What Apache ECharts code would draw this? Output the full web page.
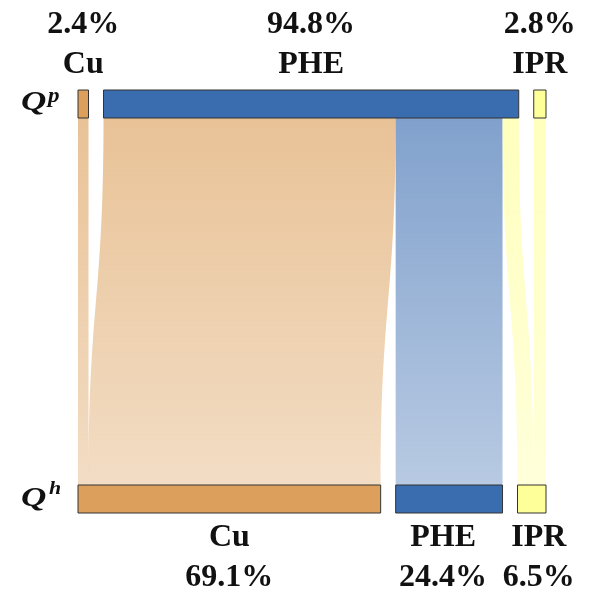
<!DOCTYPE html>
<html><head><meta charset="utf-8">
<script src="https://cdn.jsdelivr.net/npm/echarts@6/dist/echarts.min.js"></script>
<style>html,body{margin:0;padding:0;background:#fff}#c{width:600px;height:601px}</style>
</head><body><div id="c"></div>
<script>
// Categories and shares
const topNames = ['Cu', 'PHE', 'IPR'];          // Q^p
const topShares = ['2.4%', '94.8%', '2.8%'];
const bottomNames = ['Cu', 'PHE', 'IPR'];       // Q^h
const bottomShares = ['69.1%', '24.4%', '6.5%'];
// Flows (percent)
const flowSource = ['Cu', 'PHE', 'PHE', 'PHE', 'IPR'];
const flowTarget = ['Cu', 'Cu', 'PHE', 'IPR', 'IPR'];
const flowValue = [2.4, 66.7, 24.4, 3.7, 2.8];

const nodeColor = { Cu: [220, 160, 92], PHE: [58, 108, 176], IPR: [255, 255, 153] };
const bottomLabelShift = { Cu: 0, PHE: -6, IPR: 7 };
const rgb = c => 'rgb(' + c.join(',') + ')';
const rgba = (c, a) => 'rgba(' + c.join(',') + ',' + a + ')';
const FONT = 'Liberation Serif';

const nodes = [];
topNames.forEach((n, i) => nodes.push({
  name: 'p_' + n,
  itemStyle: { color: rgb(nodeColor[n]) },
  label: { position: 'top', distance: 5, formatter: '{v|' + topShares[i] + '}\n{n|' + n + '}' }
}));
bottomNames.forEach((n, i) => nodes.push({
  name: 'h_' + n,
  itemStyle: { color: rgb(nodeColor[n]) },
  label: { position: 'bottom', distance: 4, offset: [bottomLabelShift[n], 0],
           formatter: '{n|' + n + '}\n{v|' + bottomShares[i] + '}' }
}));

const links = flowSource.map((s, i) => ({
  source: 'p_' + s,
  target: 'h_' + flowTarget[i],
  value: flowValue[i],
  lineStyle: {
    color: {
      type: 'linear', x: 0, y: 0, x2: 0, y2: 1,
      colorStops: [
        { offset: 0, color: rgba(nodeColor[flowTarget[i]], 0.64) },
        { offset: 1, color: rgba(nodeColor[flowTarget[i]], 0.36) }
      ]
    }
  }
}));

const richText = {
  v: { fontFamily: FONT, fontWeight: 'bold', fontSize: 32, lineHeight: 40, color: '#111' },
  n: { fontFamily: FONT, fontWeight: 'bold', fontSize: 32, lineHeight: 40, color: '#111' }
};

const chart = echarts.init(document.getElementById('c'), null, { renderer: 'canvas' });
chart.setOption({
  animation: false,
  series: [{
    type: 'sankey',
    orient: 'vertical',
    left: 78, right: 54, top: 90, bottom: 88,
    nodeWidth: 28,
    nodeGap: 15,
    layoutIterations: 0,
    draggable: false,
    emphasis: { disabled: true },
    itemStyle: { borderColor: '#333', borderWidth: 1 },
    lineStyle: { opacity: 1, curveness: 0.5 },
    label: { show: true, color: '#111', align: 'center', rich: richText },
    data: nodes,
    links: links
  }],
  graphic: [
    { type: 'text', x: 21, y: 102.5, scaleX: 1.3, scaleY: 1.05, style: { text: 'Q', align: 'left', verticalAlign: 'middle', font: 'italic bold 27px "' + FONT + '"', fill: '#111' } },
    { type: 'text', x: 48, y: 97, scaleX: 1.15, style: { text: 'p', align: 'left', verticalAlign: 'middle', font: 'italic bold 20px "' + FONT + '"', fill: '#111' } },
    { type: 'text', x: 21, y: 499, scaleX: 1.3, scaleY: 1.05, style: { text: 'Q', align: 'left', verticalAlign: 'middle', font: 'italic bold 27px "' + FONT + '"', fill: '#111' } },
    { type: 'text', x: 49, y: 489.5, scaleX: 1.15, style: { text: 'h', align: 'left', verticalAlign: 'middle', font: 'italic bold 19px "' + FONT + '"', fill: '#111' } }
  ]
});
</script></body></html>
